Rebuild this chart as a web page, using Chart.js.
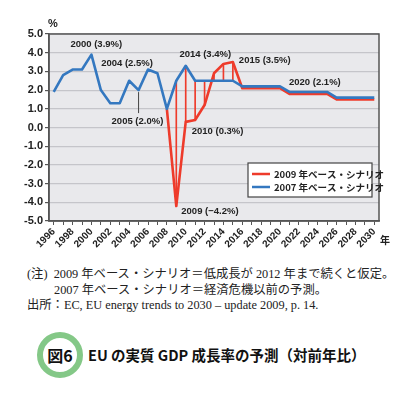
<!DOCTYPE html>
<html>
<head>
<meta charset="utf-8">
<script src="https://cdn.jsdelivr.net/npm/chart.js@4"></script>
<style>
  body { margin: 0; background: #fff; width: 410px; height: 394px; position: relative; overflow: hidden; }
  #wrap { position: absolute; left: 0; top: 0; width: 410px; height: 250px; }
  .note { position: absolute; font-family: "Liberation Serif", "Noto Sans CJK JP", serif; font-size: 12.3px; line-height: 15px; color: #222; white-space: nowrap; }
  #ring { position: absolute; left: 37px; top: 332px; width: 34px; height: 34px; border: 6px solid #84c887; border-radius: 50%; }
  #fig { position: absolute; left: 37px; top: 332px; width: 46px; height: 46px; line-height: 46px; text-align: center; font-family: "Noto Sans CJK JP", sans-serif; font-weight: bold; font-size: 16px; color: #111; }
  #title { position: absolute; left: 88px; top: 345px; font-family: "Noto Sans CJK JP", sans-serif; font-weight: bold; font-size: 14.5px; line-height: 20px; color: #111; white-space: nowrap; }
</style>
</head>
<body>
<div id="wrap"><canvas id="main-chart" width="410" height="250"></canvas></div>
<div class="note" style="left:27px; top:267px;">(注)&nbsp;&nbsp;2009 年ベース・シナリオ＝低成長が 2012 年まで続くと仮定。</div>
<div class="note" style="left:54px; top:283px;">2007 年ベース・シナリオ＝経済危機以前の予測。</div>
<div class="note" style="left:27px; top:298px;">出所：EC, EU energy trends to 2030 – update 2009, p. 14.</div>
<div id="ring"></div>
<div id="fig">図6</div>
<div id="title">EU の実質 GDP 成長率の予測（対前年比）</div>
<script>
const YEARS = [];
for (let y = 1996; y <= 2030; y++) YEARS.push(String(y));

// 2007 年ベース (blue)
const BASE_2007 = [1.9, 2.8, 3.1, 3.1, 3.9, 2.0, 1.3, 1.3, 2.5, 2.0,
                   3.1, 2.9, 1.0, 2.5, 3.3, 2.5, 2.5, 2.5, 2.5, 2.5,
                   2.2, 2.2, 2.2, 2.2, 2.2, 1.9, 1.9, 1.9, 1.9, 1.9,
                   1.6, 1.6, 1.6, 1.6, 1.6];
// 2009 年ベース (red), starts 2008
const BASE_2009 = [null, null, null, null, null, null, null, null, null, null,
                   null, null, 1.0, -4.2, 0.3, 0.4, 1.2, 2.9, 3.4, 3.5,
                   2.1, 2.1, 2.1, 2.1, 2.1, 1.8, 1.8, 1.8, 1.8, 1.8,
                   1.5, 1.5, 1.5, 1.5, 1.5];
// gap between scenarios 2009-2015
const GAP = YEARS.map((y, i) => (+y >= 2009 && +y <= 2015) ? [BASE_2009[i], BASE_2007[i]] : null);

const SERIES_LABELS = ['2009 年ベース・シナリオ', '2007 年ベース・シナリオ'];
const Y_TICKS = [-5, -4, -3, -2, -1, 0, 1, 2, 3, 4, 5];

// callouts: year, series, offset from point (left edge of text)
const NOTES = [
  { year: '2000', s: 'b', dx: -21, dy: -10 },
  { year: '2004', s: 'b', dx: -28, dy: -17 },
  { year: '2005', s: 'b', dx: -27, dy: 31, leader: true },
  { year: '2014', s: 'r', dx: -44, dy: -10 },
  { year: '2015', s: 'r', dx: 6, dy: -2 },
  { year: '2020', s: 'r', dx: 9, dy: -6 },
  { year: '2010', s: 'r', dx: 6, dy: 9 },
  { year: '2009', s: 'r', dx: 5, dy: 5 }
];

const RED = '#ee3b2b', BLUE = '#3478c0';
const FONT = '"Liberation Sans", Arial, sans-serif';

const extras = {
  id: 'extras',
  beforeDraw(chart) {
    const { ctx, chartArea: a } = chart;
    ctx.save();
    ctx.fillStyle = '#e9e9ec';
    ctx.fillRect(a.left, a.top, a.right - a.left, a.bottom - a.top);
    ctx.restore();
  },
  afterDraw(chart) {
    const { ctx, chartArea: a, scales } = chart;
    ctx.save();
    ctx.strokeStyle = '#555';
    ctx.lineWidth = 1.5;
    ctx.strokeRect(a.left, a.top, a.right - a.left, a.bottom - a.top);

    ctx.fillStyle = '#222';
    ctx.font = 'bold 11px ' + FONT;
    ctx.textAlign = 'center';
    ctx.textBaseline = 'middle';
    ctx.fillText('%', a.left + 4, a.top - 10);
    ctx.font = 'bold 10px "Noto Sans CJK JP", sans-serif';
    ctx.fillText('年', a.right + 6, a.bottom + 19);

    ctx.font = 'bold 9.5px ' + FONT;
    ctx.textAlign = 'left';
    NOTES.forEach(n => {
      const i = YEARS.indexOf(n.year);
      const v = n.s === 'b' ? BASE_2007[i] : BASE_2009[i];
      const px = scales.x.getPixelForValue(i);
      const py = scales.y.getPixelForValue(v);
      const txt = n.year + ' (' + (v < 0 ? '−' + (-v).toFixed(1) : v.toFixed(1)) + '%)';
      if (n.leader) {
        ctx.strokeStyle = '#444';
        ctx.lineWidth = 1;
        ctx.beginPath();
        ctx.moveTo(px, py + 2);
        ctx.lineTo(px, py + n.dy - 8);
        ctx.stroke();
      }
      ctx.fillStyle = '#222';
      ctx.fillText(txt, px + n.dx, py + n.dy);
    });

    // legend box
    const bx = a.right - 131, by = a.bottom - 58, bw = 124, bh = 34;
    ctx.fillStyle = '#fff';
    ctx.fillRect(bx, by, bw, bh);
    ctx.strokeStyle = '#444';
    ctx.lineWidth = 1.2;
    ctx.strokeRect(bx, by, bw, bh);
    [RED, BLUE].forEach((c, k) => {
      const ly = by + 11 + k * 13;
      ctx.strokeStyle = c;
      ctx.lineWidth = 2.5;
      ctx.beginPath();
      ctx.moveTo(bx + 4, ly);
      ctx.lineTo(bx + 22, ly);
      ctx.stroke();
      ctx.fillStyle = '#222';
      ctx.font = 'bold 9.5px "Noto Sans CJK JP", ' + FONT;
      ctx.fillText(SERIES_LABELS[k], bx + 26, ly);
    });
    ctx.restore();
  }
};

new Chart(document.getElementById('main-chart'), {
  type: 'line',
  data: {
    labels: YEARS,
    datasets: [
      { label: SERIES_LABELS[1], data: BASE_2007, borderColor: BLUE, borderWidth: 2.6, borderJoinStyle: 'round', pointRadius: 0, tension: 0, order: 1 },
      { label: SERIES_LABELS[0], data: BASE_2009, borderColor: RED, borderWidth: 2.6, borderJoinStyle: 'round', pointRadius: 0, tension: 0, order: 2 },
      { type: 'bar', label: 'gap', data: GAP, backgroundColor: RED, barThickness: 1, order: 3 }
    ]
  },
  options: {
    responsive: false,
    animation: false,
    layout: { padding: { top: 34, right: 31, left: 0, bottom: 0 } },
    plugins: { legend: { display: false }, tooltip: { enabled: false } },
    scales: {
      x: {
        type: 'category',
        offset: true,
        afterFit: s => { s.height = 29; },
        grid: { drawOnChartArea: false, offset: false, tickLength: 4, color: '#555' },
        border: { color: '#555', width: 1.5 },
        ticks: {
          autoSkip: false, maxRotation: 45, minRotation: 45, padding: 1,
          color: '#222', font: { family: FONT, weight: 'bold', size: 10 },
          callback: function (val, idx) { return (+YEARS[idx]) % 2 === 0 ? YEARS[idx] : ''; }
        }
      },
      y: {
        min: -5, max: 5,
        afterFit: s => { s.width = 49; },
        afterBuildTicks: s => { s.ticks = Y_TICKS.map(v => ({ value: v })); },
        grid: { color: '#c5c5ca', lineWidth: 1.2, tickLength: 4, tickColor: '#555' },
        border: { color: '#555', width: 1.5 },
        ticks: {
          padding: 2, color: '#222', font: { family: FONT, weight: 'bold', size: 11 },
          callback: v => v.toFixed(1)
        }
      }
    }
  },
  plugins: [extras]
});
</script>
</body>
</html>
